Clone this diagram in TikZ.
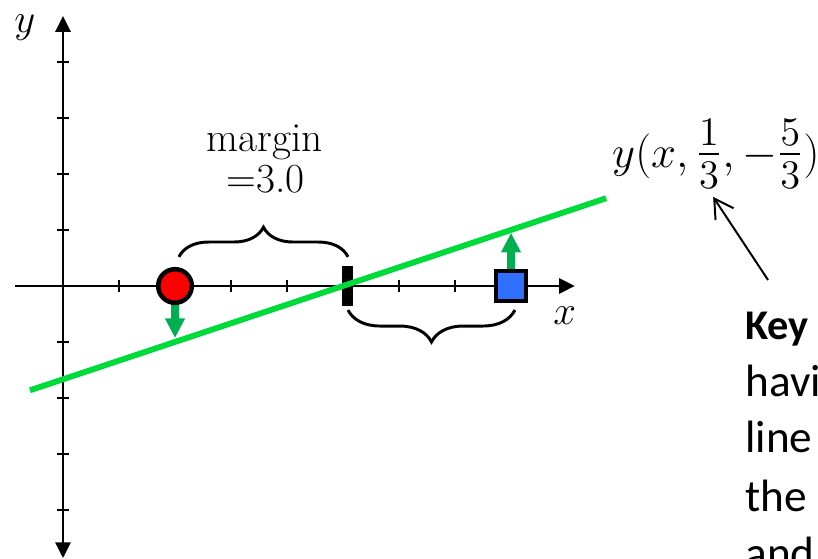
\documentclass[tikz,border=0pt]{standalone}
\usepackage{graphicx}
\usepackage{fontspec}
\newfontfamily\keyfont{Carlito}
\usetikzlibrary{arrows.meta,decorations.pathreplacing}
\definecolor{linegreen}{RGB}{0,218,58}
\definecolor{arrowgreen}{RGB}{0,176,80}
\definecolor{ptred}{RGB}{255,0,0}
\definecolor{ptblue}{RGB}{47,112,255}
\newcommand*\bigfs{\fontsize{20.74}{24}\selectfont}
\newcommand*\marfs{\fontsize{21}{24}\selectfont}
\newcommand*\keyfs{\keyfont\fontsize{23}{28}\selectfont}
\newcommand*\keybfs{\keyfont\fontsize{21.5}{26}\selectfont\bfseries}
\newcommand*\bfrac[2]{\mathord{\raisebox{-0.6pt}{\scalebox{1.3}{$\frac{#1}{#2}$}}}}
\tikzset{
  axisline/.style={line width=1.5pt, draw=black},
  axistip/.style={-{Triangle[length=8pt,width=7.6pt]}},
  tickmark/.style={line width=1.3pt, draw=black},
  gline/.style={line width=3pt, draw=linegreen},
  garrow/.style={line width=4pt, draw=arrowgreen, fill=arrowgreen, -{Triangle[length=10pt,width=9.5pt]}},
  bracestyle/.style={line width=1.5pt, decorate, decoration={brace, amplitude=#1}},
  redpt/.style={circle, draw=black, line width=2.3pt, fill=ptred, minimum size=0.6cm, inner sep=0pt},
  bluept/.style={rectangle, draw=black, line width=2.5pt, fill=ptblue, minimum size=0.536cm, inner sep=0pt},
  barpt/.style={rectangle, fill=black, minimum width=0.196cm, minimum height=0.714cm, inner sep=0pt},
  mathlbl/.style={font=\bigfs, inner sep=0pt},
  keytxt/.style={font=\keyfs, inner sep=0pt, anchor=base west},
  pointer/.style={line width=1pt, -{Straight Barb[length=9.5pt,width=11pt]}},
}
\begin{document}
\begin{tikzpicture}[x=1cm,y=1cm]
\useasboundingbox (-1.125,-4.875) rectangle (13.482,5.107);
\begin{scope}
\clip (-1.125,-4.875) rectangle (13.482,5.107);
% axes
\coordinate (xl) at (-0.86,0);
\coordinate (xr) at (9.14,0);
\coordinate (yb) at (0,-4.86);
\coordinate (yt) at (0,4.82);
\draw[axisline,axistip] (xl) -- (xr);
\draw[axisline,{Triangle[length=8pt,width=7.6pt]}-{Triangle[length=8pt,width=7.6pt]}] (yb) -- (yt);
\foreach \i in {1,...,8} {\draw[tickmark] (\i,-0.107) -- (\i,0.107);}
\foreach \j in {-4,-3,-2,-1,1,2,3,4} {\draw[tickmark] (-0.107,\j) -- (0.107,\j);}
% axis labels
\node[mathlbl, anchor=base] (ylab) at (-0.68,4.52) {$y$};
\node[mathlbl, anchor=base] (xlab) at (8.96,-0.696) {$x$};
% decision boundary marker
\node[barpt] (bar) at (5.08,0) {};
% green line
\coordinate (gl) at (-0.59,-1.863);
\coordinate (gr) at (9.7,1.567);
\draw[gline] (gl) -- (gr);
% points and green arrows
\coordinate (p1) at (2,0);
\coordinate (p2) at (8,0);
\coordinate (a1) at (2,-0.93);
\coordinate (a2) at (8,0.95);
\draw[garrow] (p1) -- (a1);
\draw[garrow] (p2) -- (a2);
\node[redpt] (red) at (p1) {};
\node[bluept] (blue) at (p2) {};
% braces
\coordinate (b1s) at (2.07,0.52);
\coordinate (b1e) at (5.09,0.52);
\coordinate (b2s) at (8.07,-0.43);
\coordinate (b2e) at (5.09,-0.43);
\draw[bracestyle=0.53cm] (b1s) -- (b1e);
\draw[bracestyle=0.57cm] (b2s) -- (b2e);
% margin label
\node[mathlbl, font=\marfs, anchor=base] (marg) at (3.60,2.393) {margin};
\node[mathlbl, font=\marfs, anchor=base] (margv) at (3.62,1.661) {=3.0};
% function label and pointer
\node[mathlbl, anchor=base west] (flab) at (9.80,2.12) {\scalebox{1.1}{$y(x,\bfrac{1}{3},-\bfrac{5}{3})$}};
\coordinate (ptail) at (12.59,0.107);
\coordinate (phead) at (11.61,1.59);
\draw[pointer] (ptail) -- (phead);
% key text (cropped)
\node[keytxt, font=\keybfs] (k1) at (12.18,-0.964) {Key};
\node[keytxt] (k2) at (12.18,-1.98) {havi};
\node[keytxt] (k3) at (12.18,-2.98) {line};
\node[keytxt] (k4) at (12.18,-4.02) {the};
\node[keytxt] (k5) at (12.18,-5.04) {and};
\end{scope}
\end{tikzpicture}
\end{document}
